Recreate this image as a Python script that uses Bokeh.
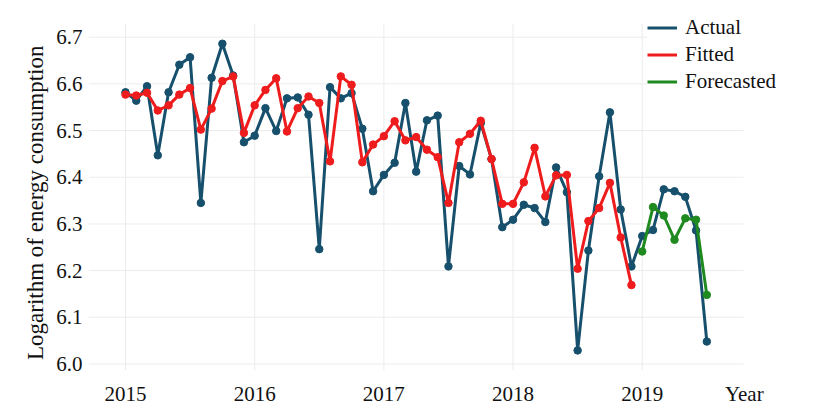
from bokeh.plotting import figure
from bokeh.models import (Legend, LegendItem, Range1d, FixedTicker,
                          CustomJSTickFormatter)
from bokeh.embed import file_html
from bokeh.resources import INLINE

# ---- data ----
start_year = 2015
actual = [6.582, 6.564, 6.595, 6.447, 6.582, 6.641, 6.657, 6.345, 6.613, 6.686,
          6.618, 6.475, 6.489, 6.548, 6.499, 6.569, 6.571, 6.534, 6.246, 6.593,
          6.569, 6.580, 6.504, 6.370, 6.405, 6.431, 6.559, 6.412, 6.522, 6.532,
          6.209, 6.424, 6.406, 6.516, 6.439, 6.293, 6.309, 6.341, 6.334, 6.304,
          6.421, 6.368, 6.029, 6.243, 6.402, 6.539, 6.331, 6.209, 6.274, 6.287,
          6.374, 6.370, 6.358, 6.286, 6.048]
fitted = [6.577, 6.575, 6.581, 6.543, 6.554, 6.577, 6.591, 6.502, 6.547, 6.606,
          6.616, 6.495, 6.554, 6.587, 6.612, 6.498, 6.548, 6.573, 6.559, 6.434,
          6.616, 6.598, 6.432, 6.470, 6.488, 6.520, 6.479, 6.486, 6.459, 6.443,
          6.345, 6.475, 6.493, 6.521, 6.439, 6.343, 6.343, 6.389, 6.463, 6.359,
          6.404, 6.405, 6.204, 6.306, 6.334, 6.388, 6.271, 6.169]
forecast = [6.241, 6.336, 6.318, 6.266, 6.312, 6.309, 6.148]
forecast_start = 48  # month index of first forecast (Jan 2019)
year_ticks = [2015, 2016, 2017, 2018, 2019]
y_ticks = [6.0, 6.1, 6.2, 6.3, 6.4, 6.5, 6.6, 6.7]
x_axis_title = "Year"
y_axis_title = "Logarithm of energy consumption"

x_actual = [start_year + i / 12 for i in range(len(actual))]
x_fitted = [start_year + i / 12 for i in range(len(fitted))]
x_forecast = [start_year + (forecast_start + i) / 12 for i in range(len(forecast))]

BLUE = "#17506c"
RED = "#ee1c1c"
GREEN = "#1f8a1f"
GRID = "#ececec"
FONT = "Liberation Serif"

X0, X_GRID_END, X1 = 2014.7136, 2019.784, 2020.349
Y0, Y_GRID_TOP, Y1 = 5.986, 6.7294, 6.7786
YEAR_POS = 2019.79

p = figure(width=818, height=417, output_backend="svg", toolbar_location=None,
           x_range=Range1d(X0, X1), y_range=Range1d(Y0, Y1),
           min_border_left=88, min_border_right=2, min_border_top=0,
           min_border_bottom=47)
p.outline_line_color = None
p.background_fill_color = "white"

for ax in (p.xaxis[0], p.yaxis[0]):
    ax.axis_line_color = None
    ax.major_tick_line_color = None
    ax.minor_tick_line_color = None
    ax.major_label_text_font = FONT
    ax.major_label_text_font_size = "21px"
    ax.major_label_text_color = "#111111"

p.xaxis.ticker = FixedTicker(ticks=year_ticks + [YEAR_POS])
p.xaxis.formatter = CustomJSTickFormatter(
    code="return tick > 2019.5 ? '%s' : tick.toFixed(0);" % x_axis_title)
p.yaxis.ticker = FixedTicker(ticks=y_ticks)
p.yaxis.formatter = CustomJSTickFormatter(code="return tick.toFixed(1);")
p.xaxis.major_label_standoff = 5
p.yaxis.major_label_standoff = 0
# trailing no-break spaces shift the rotated title down to the reference position
p.yaxis.axis_label = y_axis_title + "\u00a0" * 6
p.yaxis.axis_label_text_font = FONT
p.yaxis.axis_label_text_font_style = "normal"
p.yaxis.axis_label_text_font_size = "23px"
p.yaxis.axis_label_text_color = "#111111"
p.yaxis.axis_label_standoff = 5

p.xgrid.visible = False
p.ygrid.visible = False

# grid lines limited to the plotting area of the reference
p.segment(x0=[X0] * len(y_ticks), y0=y_ticks,
          x1=[X_GRID_END] * len(y_ticks), y1=y_ticks,
          line_color=GRID, line_width=1)
p.segment(x0=year_ticks, y0=[Y0] * len(year_ticks),
          x1=year_ticks, y1=[Y_GRID_TOP] * len(year_ticks),
          line_color=GRID, line_width=1)

la = p.line(x_actual, actual, line_color=BLUE, line_width=3)
p.scatter(x_actual, actual, size=7.5, color=BLUE)
lf = p.line(x_fitted, fitted, line_color=RED, line_width=3)
p.scatter(x_fitted, fitted, size=7.5, color=RED)
lg = p.line(x_forecast, forecast, line_color=GREEN, line_width=3)
p.scatter(x_forecast, forecast, size=7.5, color=GREEN)

legend = Legend(items=[LegendItem(label="Actual", renderers=[la]),
                       LegendItem(label="Fitted", renderers=[lf]),
                       LegendItem(label="Forecasted", renderers=[lg])],
                location=(559, 276), orientation="vertical",
                label_text_font=FONT, label_text_font_size="21px",
                label_text_color="#111111",
                glyph_width=30, glyph_height=21, label_height=21,
                label_standoff=8, spacing=2, padding=4, margin=0,
                border_line_color=None, background_fill_color="white",
                background_fill_alpha=1)
p.add_layout(legend, "center")

open("out.html", "w").write(file_html(p, INLINE))
